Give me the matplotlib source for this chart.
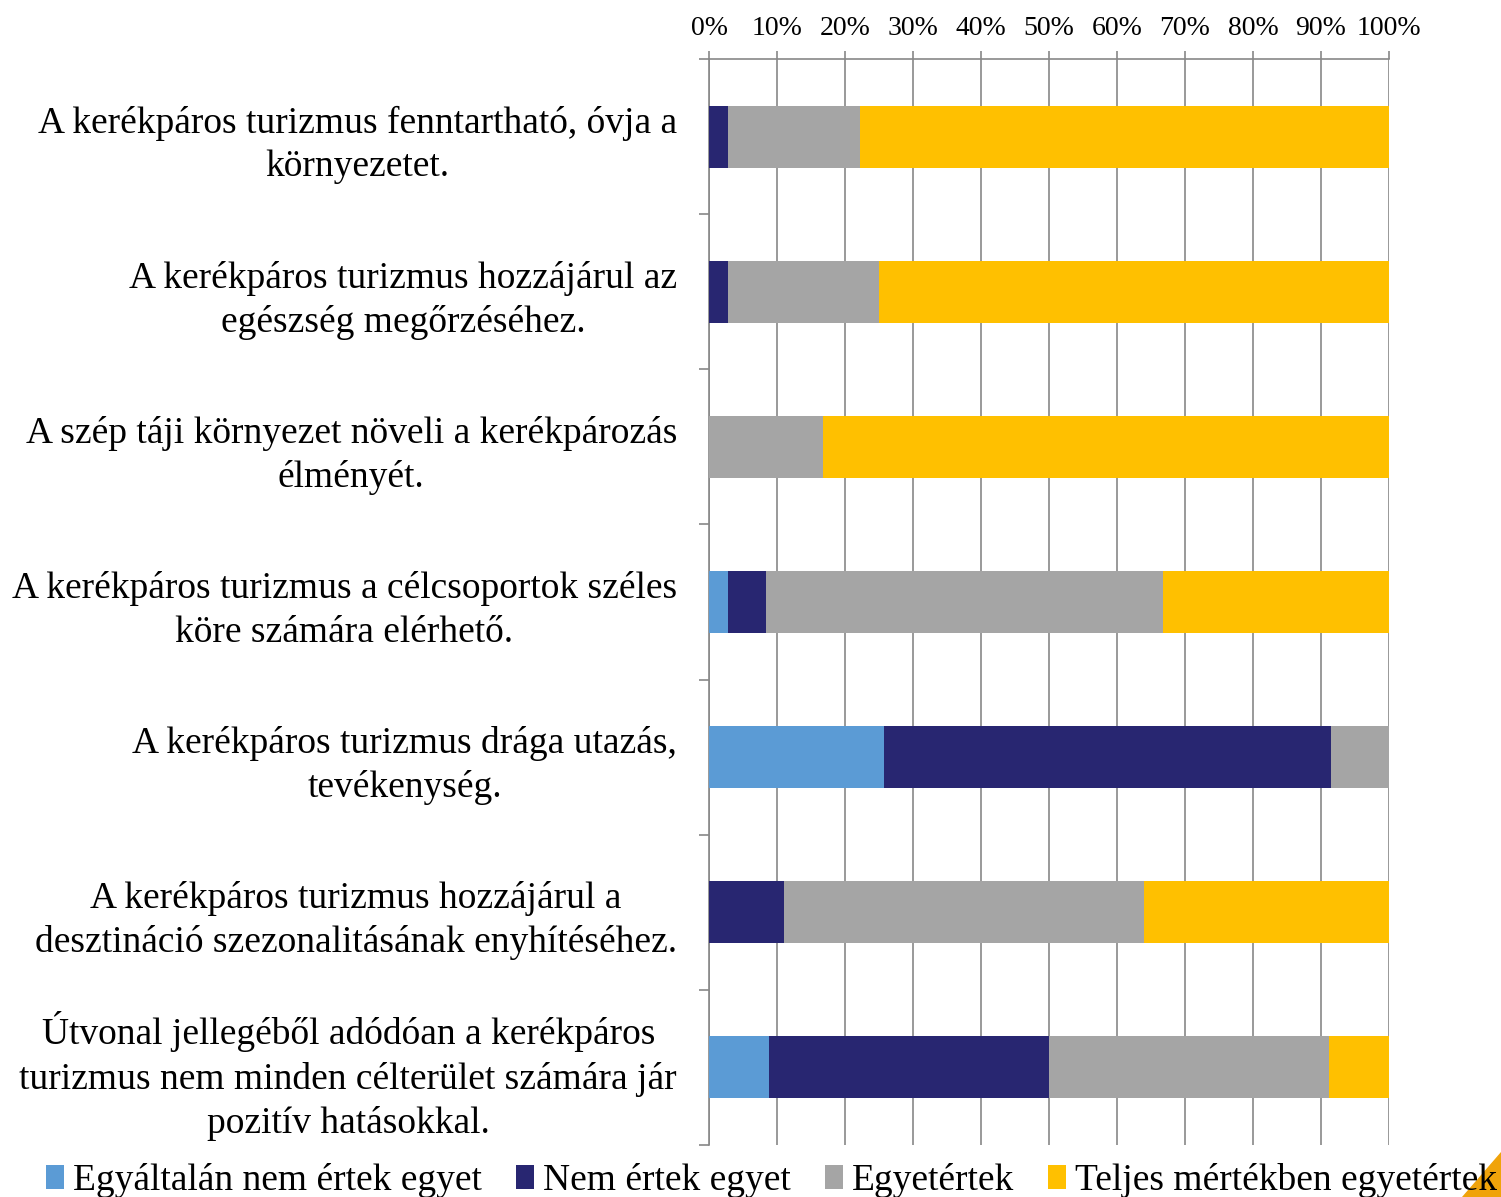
import numpy as np
import matplotlib
matplotlib.use("Agg")
import matplotlib.pyplot as plt
from matplotlib.patches import Polygon

statements = [
    "A kerékpáros turizmus fenntartható, óvja a\nkörnyezetet.",
    "A kerékpáros turizmus hozzájárul az\negészség megőrzéséhez.",
    "A szép táji környezet növeli a kerékpározás\nélményét.",
    "A kerékpáros turizmus a célcsoportok széles\nköre számára elérhető.",
    "A kerékpáros turizmus drága utazás,\ntevékenység.",
    "A kerékpáros turizmus hozzájárul a\ndesztináció szezonalitásának enyhítéséhez.",
    "Útvonal jellegéből adódóan a kerékpáros\nturizmus nem minden célterület számára jár\npozitív hatásokkal.",
]
series_names = ["Egyáltalán nem értek egyet", "Nem értek egyet", "Egyetértek",
                "Teljes mértékben egyetértek"]
egyaltalan = [0.0, 0.0, 0.0, 2.8, 25.7, 0.0, 8.8]
nem_ertek = [2.8, 2.8, 0.0, 5.6, 65.7, 11.1, 41.2]
egyetert = [19.4, 22.2, 16.7, 58.3, 8.6, 52.8, 41.2]
teljes = [77.8, 75.0, 83.3, 33.3, 0.0, 36.1, 8.8]
colors = ["#5B9BD5", "#282671", "#A5A5A5", "#FFC000"]

plt.rcParams['font.family'] = ['Liberation Serif', 'DejaVu Serif']

fig = plt.figure(figsize=(15.01, 11.97), dpi=100)
ax = fig.add_axes([709 / 1501, 1 - 1145 / 1197, 680 / 1501, (1145 - 59) / 1197])

y = np.arange(len(statements))
left = np.zeros(len(statements))
for vals, name, col in zip([egyaltalan, nem_ertek, egyetert, teljes], series_names, colors):
    ax.barh(y, vals, left=left, height=0.4, color=col, label=name, zorder=3)
    left += np.array(vals)

ax.set_xlim(0, 100)
ax.set_ylim(len(statements) - 0.5, -0.5)
ax.xaxis.tick_top()
ax.set_xticks(np.arange(0, 101, 10))
ax.set_xticklabels([f"{v}%" for v in range(0, 101, 10)], fontsize=20)
ax.tick_params(axis='x', length=6, width=1.2, color="#888888", pad=7)
ax.grid(axis='x', color="#888888", linewidth=1.2, zorder=0)

ax.set_yticks(y)
ax.set_yticklabels(statements, fontsize=27, linespacing=1.34, multialignment='center')
ax.tick_params(axis='y', which='major', length=0, pad=23)
ax.set_yticks(np.arange(-0.5, len(statements), 1), minor=True)
ax.tick_params(axis='y', which='minor', length=7, width=1.2, color="#888888")

for s in ["right", "bottom"]:
    ax.spines[s].set_visible(False)
for s in ["left", "top"]:
    ax.spines[s].set_color("#888888")
    ax.spines[s].set_linewidth(1.2)

leg = fig.legend(loc="center", bbox_to_anchor=(0.514, 16 / 1197), ncol=4, frameon=False,
                 fontsize=27, handlelength=0.48, handleheight=0.6, handletextpad=0.24,
                 columnspacing=0.9)

tri = Polygon([[1.0, 1 - 1152 / 1197], [1.0, 0.0], [1462 / 1501, 0.0]], closed=True,
              transform=fig.transFigure, color="#F0A30A", zorder=-1)
fig.patches.append(tri)

fig.savefig("out.png", dpi=100)
